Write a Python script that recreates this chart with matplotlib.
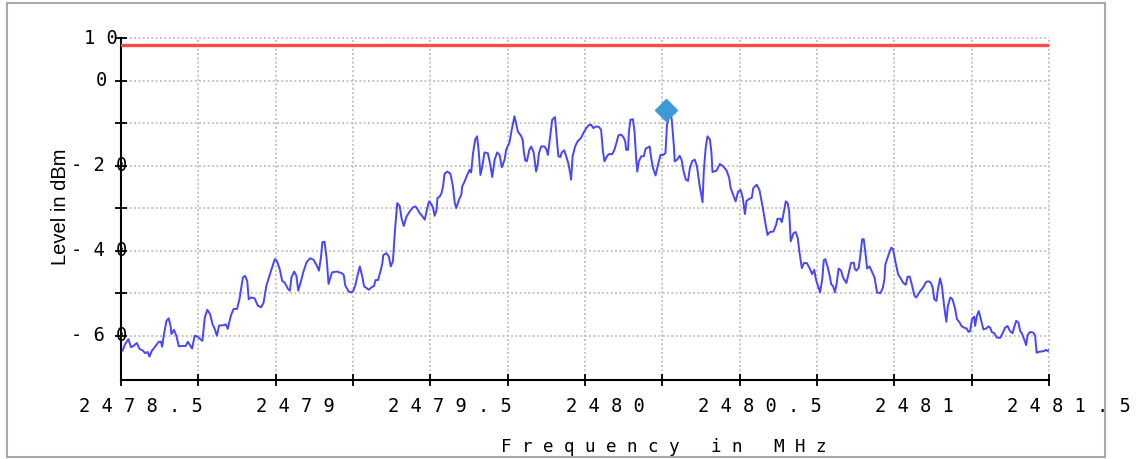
import matplotlib
matplotlib.use("Agg")
import matplotlib.pyplot as plt
from matplotlib.patches import Rectangle
from matplotlib.transforms import ScaledTranslation

# ------------------------------------------------------------
# Datos leídos del gráfico (espectro medido)
# ------------------------------------------------------------
freq_mhz = [
    2478.505, 2478.513, 2478.524, 2478.532, 2478.540, 2478.551, 2478.560, 2478.571, 2478.578, 2478.586,
    2478.592, 2478.600, 2478.611, 2478.622, 2478.629, 2478.633, 2478.638, 2478.647, 2478.654, 2478.660,
    2478.663, 2478.671, 2478.679, 2478.687, 2478.698, 2478.709, 2478.716, 2478.725, 2478.730, 2478.738,
    2478.747, 2478.763, 2478.771, 2478.779, 2478.788, 2478.796, 2478.803, 2478.810, 2478.817, 2478.834,
    2478.839, 2478.845, 2478.855, 2478.864, 2478.875, 2478.883, 2478.894, 2478.901, 2478.908, 2478.913,
    2478.921, 2478.932, 2478.942, 2478.953, 2478.961, 2478.970, 2478.980, 2478.997, 2479.004, 2479.013,
    2479.021, 2479.029, 2479.040, 2479.046, 2479.051, 2479.060, 2479.067, 2479.073, 2479.082, 2479.089,
    2479.100, 2479.111, 2479.122, 2479.133, 2479.140, 2479.147, 2479.151, 2479.158, 2479.165, 2479.171,
    2479.182, 2479.198, 2479.214, 2479.220, 2479.225, 2479.236, 2479.245,
    2479.251, 2479.258, 2479.265, 2479.272, 2479.280, 2479.286, 2479.294, 2479.301, 2479.310, 2479.318,
    2479.323, 2479.331, 2479.340, 2479.345, 2479.348, 2479.358, 2479.366, 2479.372, 2479.379, 2479.385,
    2479.393, 2479.401, 2479.407, 2479.414, 2479.423, 2479.433, 2479.444, 2479.452, 2479.458, 2479.466,
    2479.473, 2479.482, 2479.490, 2479.496, 2479.503, 2479.509, 2479.514, 2479.520, 2479.523, 2479.530,
    2479.536, 2479.541, 2479.546, 2479.555, 2479.565, 2479.573, 2479.579, 2479.584, 2479.589, 2479.595,
    2479.600, 2479.603, 2479.611, 2479.619, 2479.627, 2479.632, 2479.638, 2479.645, 2479.651, 2479.656,
    2479.662, 2479.668, 2479.675, 2479.686, 2479.694, 2479.700, 2479.708, 2479.716, 2479.724, 2479.731,
    2479.740, 2479.745, 2479.756, 2479.763, 2479.772, 2479.777, 2479.783, 2479.794, 2479.799, 2479.802,
    2479.807, 2479.812, 2479.820, 2479.826, 2479.834, 2479.842, 2479.847, 2479.851, 2479.858, 2479.869,
    2479.876, 2479.880, 2479.888, 2479.894, 2479.903, 2479.909, 2479.914, 2479.920, 2479.925, 2479.933,
    2479.939, 2479.946, 2479.953, 2479.955, 2479.960, 2479.968, 2479.976, 2479.987, 2479.996,
    2480.004, 2480.012, 2480.020, 2480.027, 2480.034, 2480.045, 2480.052, 2480.058, 2480.063, 2480.071,
    2480.077, 2480.088, 2480.095, 2480.103, 2480.108, 2480.117, 2480.125, 2480.130, 2480.133, 2480.139,
    2480.142, 2480.147, 2480.155, 2480.160, 2480.166, 2480.169, 2480.174, 2480.182, 2480.190, 2480.196,
    2480.209, 2480.214, 2480.220, 2480.228, 2480.236, 2480.244, 2480.252, 2480.260, 2480.265, 2480.272,
    2480.280, 2480.287, 2480.290, 2480.298, 2480.306, 2480.312, 2480.319, 2480.326, 2480.333, 2480.339,
    2480.347, 2480.355, 2480.362, 2480.371, 2480.380, 2480.384, 2480.390, 2480.396, 2480.404, 2480.409,
    2480.412, 2480.425, 2480.436, 2480.447, 2480.458, 2480.466, 2480.471, 2480.479, 2480.487, 2480.495,
    2480.503, 2480.510, 2480.517, 2480.522, 2480.531, 2480.539, 2480.544, 2480.555, 2480.564, 2480.568,
    2480.577, 2480.584, 2480.590, 2480.598, 2480.609, 2480.618, 2480.622, 2480.631, 2480.636, 2480.641,
    2480.649, 2480.655, 2480.660, 2480.665, 2480.674, 2480.681, 2480.688, 2480.693, 2480.701, 2480.708,
    2480.717, 2480.726, 2480.734, 2480.741, 2480.747, 2480.755, 2480.760,
    2480.767, 2480.772, 2480.777, 2480.785, 2480.791, 2480.796, 2480.802, 2480.808, 2480.813,
    2480.820, 2480.828, 2480.834, 2480.845, 2480.853, 2480.860, 2480.869, 2480.872, 2480.877, 2480.885,
    2480.890, 2480.896, 2480.901, 2480.907, 2480.912, 2480.920, 2480.928, 2480.936, 2480.944, 2480.955,
    2480.963, 2480.968, 2480.971, 2480.982, 2480.990, 2480.996, 2481.003, 2481.012, 2481.019, 2481.028,
    2481.037, 2481.043, 2481.050, 2481.057, 2481.065, 2481.071, 2481.079, 2481.087, 2481.095, 2481.103,
    2481.111, 2481.118, 2481.124, 2481.129, 2481.136, 2481.141, 2481.148, 2481.154, 2481.161, 2481.168,
    2481.173, 2481.181, 2481.188, 2481.197, 2481.202, 2481.211, 2481.218, 2481.226, 2481.234, 2481.240,
    2481.245, 2481.251, 2481.258, 2481.261, 2481.267, 2481.273, 2481.281, 2481.288, 2481.297, 2481.304,
    2481.310, 2481.315, 2481.323, 2481.331, 2481.342, 2481.351, 2481.358, 2481.366, 2481.374, 2481.382,
    2481.387, 2481.394, 2481.401, 2481.407, 2481.412, 2481.419, 2481.426, 2481.431, 2481.439, 2481.450,
    2481.455, 2481.460, 2481.466, 2481.476, 2481.484, 2481.490, 2481.496, 2481.500,
]

level_dbm = [
    -63.5, -62.0, -60.8, -62.7, -62.4, -61.7, -63.1, -63.5, -64.1, -63.8,
    -64.9, -63.5, -62.5, -61.4, -61.4, -62.6, -60.0, -56.5, -55.9, -57.6,
    -59.6, -58.6, -60.0, -62.5, -62.4, -62.4, -61.4, -62.4, -63.0, -60.0,
    -60.2, -61.2, -55.7, -53.9, -54.9, -57.3, -58.4, -60.0, -57.6, -57.5,
    -57.3, -58.4, -55.3, -53.7, -53.7, -51.4, -46.3, -45.9, -47.1, -51.4,
    -51.0, -51.2, -52.9, -53.3, -52.2, -48.2, -45.9, -42.0, -42.4, -44.3,
    -47.1, -47.5, -49.0, -49.4, -46.3, -44.9, -45.9, -49.4, -47.1, -45.1,
    -42.7, -41.8, -42.1, -43.5, -44.7, -41.2, -38.0, -37.9, -42.0, -47.8,
    -45.1, -44.9, -45.3, -45.7, -48.2, -49.6, -49.8,
    -49.4, -48.0, -45.7, -43.7, -46.1, -48.4, -48.8, -49.2, -48.6, -48.3,
    -46.9, -46.9, -44.5, -42.9, -41.0, -40.6, -41.4, -43.7, -42.5, -35.9,
    -28.8, -29.5, -32.4, -34.2, -32.0, -30.8, -29.8, -29.6, -30.2, -31.2,
    -31.8, -32.7, -30.0, -28.4, -29.0, -30.0, -31.8, -30.4, -27.6, -27.3,
    -26.5, -24.9, -21.9, -21.4, -21.9, -24.9, -28.8, -30.0, -28.8, -27.6,
    -26.9, -24.9, -23.7, -22.2, -21.0, -21.6, -17.1, -13.9, -13.1, -16.3,
    -22.2, -20.2, -16.9, -17.1, -19.8, -22.7, -18.6, -16.9, -17.5, -20.4,
    -18.6, -16.3, -14.5, -11.6, -8.4, -10.0, -12.0, -13.1, -14.1, -16.7,
    -18.8, -19.0, -16.3, -15.5, -16.9, -21.4, -19.8, -17.1, -15.5, -15.5,
    -16.3, -17.5, -12.7, -9.2, -8.6, -13.9, -17.8, -18.0, -16.9, -16.4,
    -17.8, -19.4, -22.2, -23.3, -17.8, -15.5, -14.3, -13.5, -12.2,
    -11.2, -10.5, -10.4, -11.2, -10.8, -10.9, -11.6, -16.7, -19.0, -17.8,
    -17.3, -17.3, -16.3, -14.3, -12.9, -12.7, -13.4, -14.3, -16.3, -16.3,
    -12.0, -9.2, -9.1, -12.0, -19.0, -21.4, -19.0, -17.8, -17.8, -16.0,
    -15.5, -18.2, -20.6, -22.3, -19.8, -17.5, -17.5, -17.1, -10.4, -8.4,
    -8.8, -15.1, -19.0, -18.6, -17.7, -18.6, -21.4, -23.3, -23.6, -20.6,
    -18.9, -18.6, -20.2, -24.9, -28.6, -21.4, -15.9, -13.1, -13.9, -17.1,
    -21.5, -21.2, -19.6, -20.2, -21.2, -22.9, -25.3, -26.9, -28.4, -26.1,
    -25.7, -27.6, -31.4, -28.3, -27.8, -27.6, -25.3, -24.5, -25.7, -27.3,
    -30.8, -33.9, -36.3, -35.6, -35.5, -33.9, -32.5, -32.5, -33.3, -31.6,
    -28.4, -28.8, -30.8, -37.8, -35.9, -35.6, -37.1, -40.2, -44.1, -42.9,
    -42.9, -44.1, -45.5, -44.5, -46.9, -48.7, -49.8,
    -46.7, -42.2, -42.0, -44.0, -45.9, -47.9, -48.3, -49.8, -47.9,
    -44.2, -44.7, -46.3, -47.6, -45.1, -42.9, -42.8, -44.2, -44.7, -44.0,
    -41.2, -37.3, -37.3, -40.8, -44.2, -43.7, -45.0, -46.3, -49.8, -50.0,
    -48.7, -46.7, -43.2, -40.8, -39.3, -39.6, -42.4, -45.5, -46.3, -47.5,
    -48.0, -46.1, -46.1, -48.1, -50.6, -51.0, -50.0, -49.2, -48.4, -47.3,
    -47.2, -47.5, -48.7, -51.4, -51.8, -49.1, -46.5, -48.4, -53.0, -56.7,
    -53.0, -51.0, -51.4, -53.8, -56.0, -56.9, -57.8, -58.1, -58.3, -59.1,
    -58.9, -56.1, -55.5, -57.7, -55.3, -54.2, -56.5, -58.5, -58.3, -57.8,
    -58.1, -59.1, -59.4, -60.4, -60.5, -59.3, -58.1, -57.7, -58.9, -59.4,
    -58.1, -56.5, -56.9, -58.9, -59.4, -60.7, -62.2, -59.8, -59.1, -59.3,
    -60.0, -64.0, -63.8, -63.7, -63.6, -63.3, -63.6, -63.4,
]

# Línea límite y marcador de pico
limit_dbm = 8.3
peak_freq = 2480.262
peak_level = -6.85

# Ejes
x_ticks = [2478.5, 2478.75, 2479.0, 2479.25, 2479.5, 2479.75, 2480.0,
           2480.25, 2480.5, 2480.75, 2481.0, 2481.25, 2481.5]
x_labels = ["2 4 7 8 . 5", "", "2 4 7 9", "", "2 4 7 9 . 5", "", "2 4 8 0",
            "", "2 4 8 0 . 5", "", "2 4 8 1", "", "2 4 8 1 . 5"]
y_ticks = [10, 0, -10, -20, -30, -40, -50, -60]
y_labels = ["1 0", "0", "", "- 2 0", "", "- 4 0", "", "- 6 0"]
y_label_dx = [-3, -14, 0, 6, 0, 6, 0, 6]   # desplazamiento en px del borde derecho

# ------------------------------------------------------------
# Gráfico
# ------------------------------------------------------------
W, H = 1142, 459
fig = plt.figure(figsize=(W / 100, H / 100), dpi=100)
ax = fig.add_axes([121 / W, 1 - 380 / H, (1049 - 121) / W, (380 - 38) / H])

mono = "DejaVu Sans Mono"

ax.plot(freq_mhz, level_dbm, color="#4646ff", lw=1.4, zorder=3)
ax.axhline(limit_dbm, color="#ff4a4a", lw=2.4, zorder=3)
ax.plot([peak_freq], [peak_level], marker="D", color="#3d9ad9",
        markersize=11, zorder=4, clip_on=False)

ax.set_xlim(2478.5, 2481.5)
ax.set_ylim(-70.4, 10)

ax.set_xticks(x_ticks)
ax.set_xticklabels(x_labels, fontfamily=mono, fontsize=13.5)
ax.set_yticks(y_ticks)
ax.set_yticklabels([])
ax.tick_params(axis="x", direction="inout", length=9, width=1.3, pad=8)
ax.tick_params(axis="y", direction="inout", length=9, width=1.3, pad=0)

off_x = ScaledTranslation(20 / 100, 0, fig.dpi_scale_trans)
for lab in ax.get_xticklabels():
    lab.set_transform(lab.get_transform() + off_x)

for val, txt, dx in zip(y_ticks, y_labels, y_label_dx):
    if txt:
        tr = ax.get_yaxis_transform() + ScaledTranslation(dx / 100, 0, fig.dpi_scale_trans)
        ax.text(0, val, txt, transform=tr, ha="right", va="center",
                fontfamily=mono, fontsize=13.5, clip_on=False)

ax.grid(True, color="#bdbdbd", linestyle=(0, (1.2, 1.4)), linewidth=1.2, zorder=0)
for gl in ax.get_xgridlines() + ax.get_ygridlines():
    gl.set_clip_on(False)

ax.spines["top"].set_visible(False)
ax.spines["right"].set_visible(False)
ax.spines["left"].set_linewidth(1.5)
ax.spines["bottom"].set_linewidth(1.5)

fig.text(60 / W, 1 - 207 / H, "Level in dBm", rotation=90, ha="center", va="center",
         fontfamily="Liberation Sans", fontsize=14.5)
fig.text(664 / W, 1 - 452 / H, "F r e q u e n c y   i n   M H z", ha="center",
         va="baseline", fontfamily=mono, fontsize=12.6)

fig.add_artist(Rectangle((7 / W, 1 - 457 / H), (1105 - 7) / W, (457 - 3) / H,
                         transform=fig.transFigure, fill=False,
                         edgecolor="#a8a8a8", lw=1.5))

plt.savefig("out.png", dpi=100)
